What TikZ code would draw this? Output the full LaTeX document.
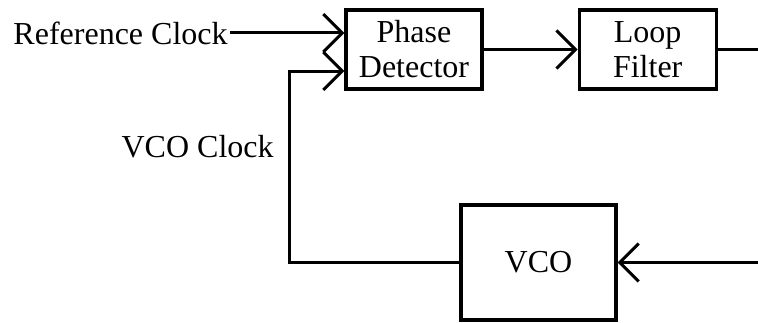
\documentclass[tikz,border=0pt]{standalone}
\usepackage{fontspec}
\setmainfont{Liberation Serif}
\usetikzlibrary{positioning,arrows.meta,calc}
\tikzset{
    every node/.style={font=\fontsize{16}{17.5}\selectfont},
    block/.style={draw,line width=1.6pt,minimum height=39.5pt,align=center,inner sep=2pt},
    lbl/.style={inner sep=1pt},
    wire/.style={line width=1.5pt},
    sig/.style={wire,-{Straight Barb[length=9.5pt,width=19pt]}}
}
\begin{document}
\begin{tikzpicture}[x=1pt,y=1pt]
\useasboundingbox (0,0) rectangle (379,161);
\coordinate (edge) at (379,0);
\node[block,minimum width=68pt] (pd) at (207,136.25) {Phase\\Detector};
\node[block,minimum width=68.5pt,right=47pt of pd] (lf) {Loop\\Filter};
\node[block,minimum width=77.5pt,minimum height=57.5pt] (vco) at (269.25,29.75) {VCO};
\node[lbl,anchor=east] (refclk) at (115,144.5) {Reference Clock};
\node[lbl,anchor=east] (vcoclk) at (138,87.5) {VCO Clock};
\path (pd.west) ++(0,-10.75) coordinate (fbin);
\coordinate (fbcorner) at (144.5,125.5);
\draw[sig] (refclk.east) -- (refclk.east -| pd.west);
\draw[sig] (vco.west) -| (fbcorner) -- (fbin);
\draw[sig] (pd.east) -- (lf.west);
\draw[wire] (lf.east) -- (lf.east -| edge);
\draw[sig] (vco.east -| edge) -- (vco.east);
\end{tikzpicture}
\end{document}
